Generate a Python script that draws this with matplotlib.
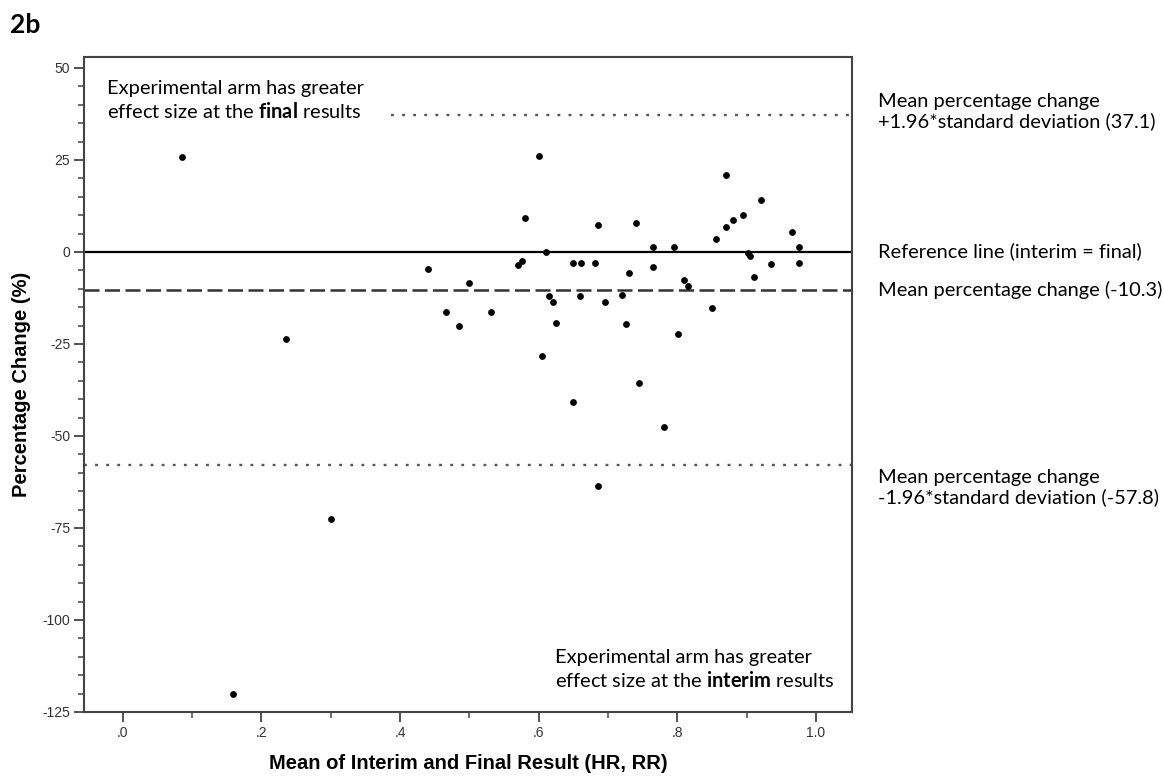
import numpy as np
from matplotlib import pyplot as plt
from matplotlib.ticker import MultipleLocator, FuncFormatter

# Bland-Altman style plot: mean of interim/final vs percentage change
meanResult = [0.085, 0.159, 0.235, 0.300, 0.440, 0.466, 0.485, 0.500, 0.531,
              0.570, 0.576, 0.580, 0.600, 0.605, 0.610, 0.615, 0.620, 0.625,
              0.650, 0.650, 0.660, 0.661, 0.681, 0.685, 0.685, 0.695, 0.720,
              0.726, 0.730, 0.740, 0.745, 0.765, 0.765, 0.781, 0.795, 0.801,
              0.810, 0.815, 0.850, 0.856, 0.870, 0.870, 0.880, 0.895, 0.902,
              0.905, 0.910, 0.920, 0.935, 0.965, 0.975, 0.975]
pctChange = [25.9, -120.1, -23.6, -72.5, -4.6, -16.3, -20.2, -8.4, -16.3,
             -3.6, -2.4, 9.2, 26.1, -28.3, 0.0, -11.9, -13.7, -19.2,
             -3.0, -40.8, -11.9, -3.0, -3.0, 7.3, -63.6, -13.7, -11.7,
             -19.6, -5.6, 7.9, -35.5, 1.3, -4.0, -47.6, 1.3, -22.3,
             -7.6, -9.2, -15.3, 3.5, 20.9, 6.8, 8.7, 10.1, -0.3,
             -1.1, -6.8, 14.1, -3.3, 5.4, 1.3, -3.0]

meanChange = -10.3
upperLimit = 37.1
lowerLimit = -57.8

plt.rcParams['axes.unicode_minus'] = False
plt.rcParams['mathtext.fontset'] = 'custom'
plt.rcParams['mathtext.rm'] = 'Lato'
plt.rcParams['mathtext.bf'] = 'Lato:bold'

fig = plt.figure(figsize=(11.64, 7.77), dpi=100)
ax = fig.add_axes([0.0722, 0.0837, 0.6598, 0.8430])

ax.axhline(0, color="black", linewidth=1.6, zorder=1)
ax.axhline(meanChange, color="#333333", linewidth=1.8, dashes=(6, 2.2), zorder=1)
ax.axhline(upperLimit, xmin=0.40, color="#555555", linewidth=1.7,
           dashes=(1.2, 3.5), zorder=1)
ax.axhline(lowerLimit, color="#555555", linewidth=1.7, dashes=(1.2, 3.5), zorder=1)

ax.scatter(meanResult, pctChange, s=24, color="black", zorder=3, linewidths=0)

ax.set_xlim(-0.056, 1.052)
ax.set_ylim(-125, 53)
ax.xaxis.set_major_locator(MultipleLocator(0.2))
ax.xaxis.set_minor_locator(MultipleLocator(0.1))
ax.yaxis.set_major_locator(MultipleLocator(25))
ax.yaxis.set_minor_locator(MultipleLocator(5))
ax.xaxis.set_major_formatter(FuncFormatter(
    lambda v, p: "1.0" if abs(v - 1) < 1e-9 else ("%.1f" % v).lstrip("0")))

for side in ["left", "right", "top", "bottom"]:
    ax.spines[side].set_color("#444444")
    ax.spines[side].set_linewidth(1.5)
ax.tick_params(which="major", length=7, width=1.3, color="#444444",
               labelsize=10, labelcolor="#333333", pad=3)
ax.tick_params(which="minor", length=4, width=1.1, color="#444444")
for lab in ax.get_xticklabels() + ax.get_yticklabels():
    lab.set_family("Liberation Sans")

ax.set_xlabel("Mean of Interim and Final Result (HR, RR)", fontsize=14.5,
              fontweight="bold", family="Liberation Sans", labelpad=10)
ax.set_ylabel("Percentage Change (%)", fontsize=14.5, fontweight="bold",
              family="Liberation Sans", labelpad=8)

note = dict(fontsize=14.4, family="Lato", color="black")
ax.text(0.030, 0.934, "Experimental arm has greater\neffect size at the $\\mathbf{final}$ results",
        transform=ax.transAxes, va="center", ha="left", linespacing=1.25, **note)
ax.text(0.613, 0.065, "Experimental arm has greater\neffect size at the $\\mathbf{interim}$ results",
        transform=ax.transAxes, va="center", ha="left", linespacing=1.25, **note)

trans = ax.get_yaxis_transform()
ax.text(1.034, 38.2, "Mean percentage change\n+1.96*standard deviation (37.1)",
        transform=trans, va="center", ha="left", linespacing=1.15, **note)
ax.text(1.034, 0.3, "Reference line (interim = final)",
        transform=trans, va="center", ha="left", **note)
ax.text(1.034, -10.3, "Mean percentage change (-10.3)",
        transform=trans, va="center", ha="left", **note)
ax.text(1.034, -64.0, "Mean percentage change\n-1.96*standard deviation (-57.8)",
        transform=trans, va="center", ha="left", linespacing=1.15, **note)

fig.text(0.009, 0.968, "2b", fontsize=19, fontweight="bold", family="Lato",
         va="center", ha="left")

plt.savefig("out.png", dpi=100)
